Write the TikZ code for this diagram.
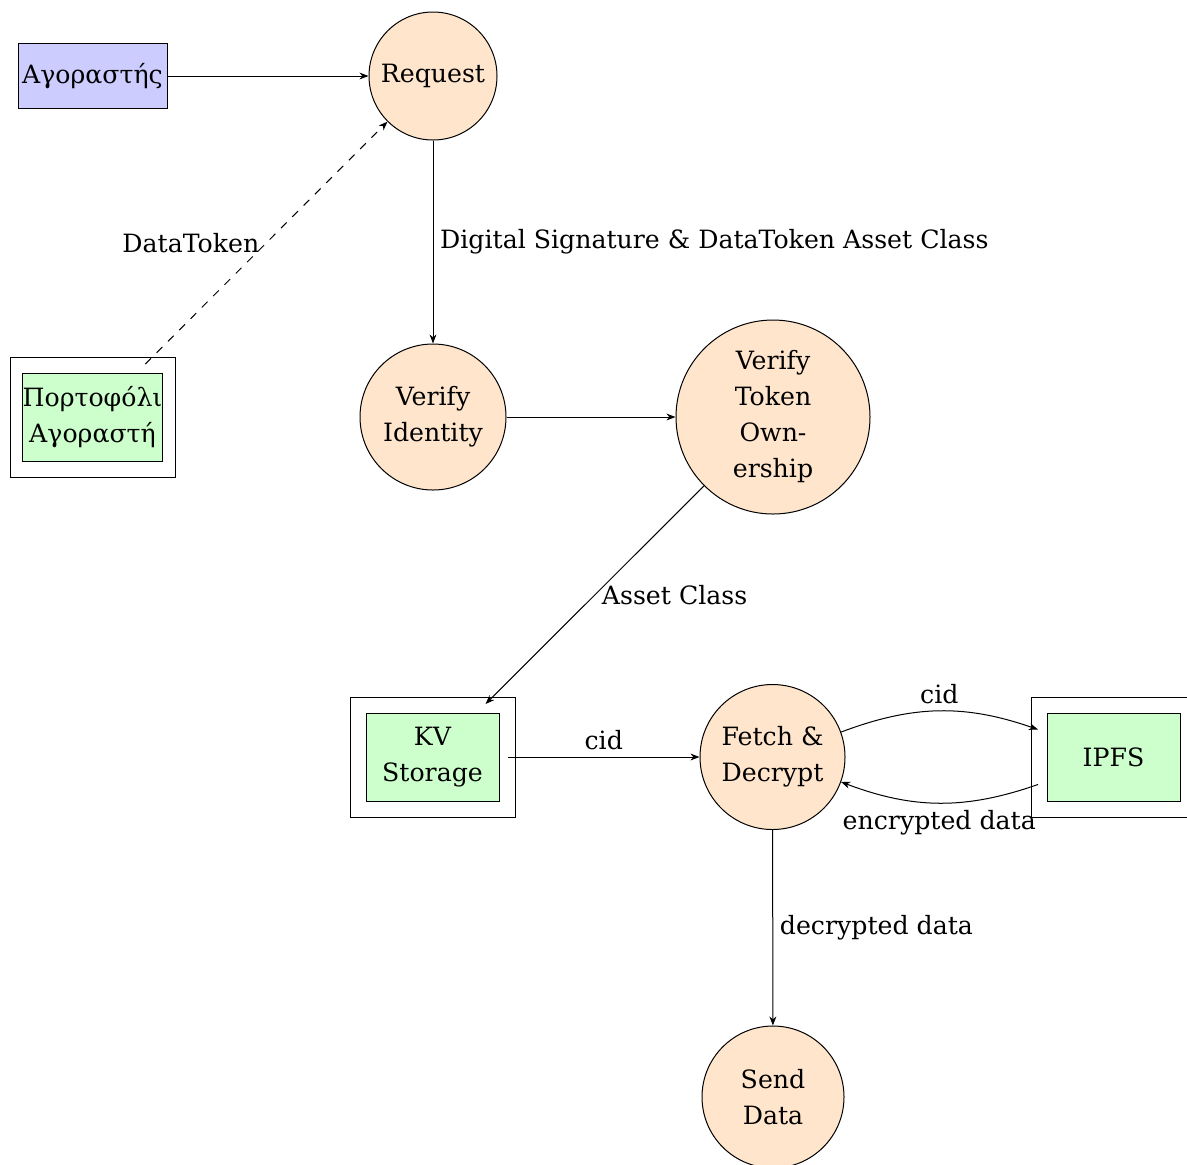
\documentclass[tikz,border=0pt]{standalone}
\usepackage{fontspec}
\setmainfont{DejaVu Serif}
\usetikzlibrary{arrows.meta}
\begin{document}
\begin{tikzpicture}[x=0.5pt,y=-0.5pt,>={Stealth[length=4.5pt,width=3.4pt,inset=1.4pt]},line width=0.5pt,
  every node/.style={font=\fontsize{12.6pt}{18pt}\selectfont},
  proc/.style={circle,draw,fill=orange!20,align=center,inner sep=0pt},
  ext/.style={draw,fill=blue!20,inner sep=0pt,minimum width=74.5pt,minimum height=32.5pt},
  frame/.style={draw,inner sep=0pt,minimum width=82.5pt,minimum height=60pt,outer sep=-3.5pt},
  store/.style={draw,fill=green!20,inner sep=0pt,align=center,minimum width=66.5pt,minimum height=44pt},
  flow/.style={->},
  dflow/.style={->,dash pattern=on 4pt off 4pt}
]
\useasboundingbox (0,0) rectangle (1187,1164);
% external entity
\node[ext] (buyer) at (92.5,76) {Αγοραστής};
% processes
\node[proc,minimum size=64pt] (req) at (433,76) {Request};
\node[proc,minimum size=73pt] (vid) at (433,417) {Verify\\Identity};
\node[proc,minimum size=97pt] (vto) at (773,417) {Verify\\Token\\Own-\\ership};
\node[proc,minimum size=72.5pt] (fd) at (772.5,757) {Fetch \&\\Decrypt};
\node[proc,minimum size=71pt] (send) at (773,1097) {Send\\Data};
% data stores
\node[frame] (wallet) at (92.5,417) {};
\node[store] (walletin) at (92.5,417) {Πορτοφόλι\\Αγοραστή};
\node[frame] (kv) at (432.5,757) {};
\node[store] (kvin) at (432.5,757) {KV\\Storage};
\node[frame] (ipfs) at (1113.5,757) {};
\node[store] (ipfsin) at (1113.5,757) {IPFS};
% flows
\draw[flow] (buyer) -- (req);
\draw[dflow] (wallet) -- node[left]{DataToken} (req);
\draw[flow] (req) -- node[right]{Digital Signature \& DataToken Asset Class} (vid);
\draw[flow] (vid) -- (vto);
\draw[flow] (vto) -- node[right]{Asset Class} (kv);
\draw[flow] (kv) -- node[above]{cid} (fd);
\draw[flow] (fd) to[bend left=20] node[above]{cid} (ipfs);
\draw[flow] (ipfs) to[bend left=20] node[below]{encrypted data} (fd);
\draw[flow] (fd) -- node[right]{decrypted data} (send);
\end{tikzpicture}
\end{document}
